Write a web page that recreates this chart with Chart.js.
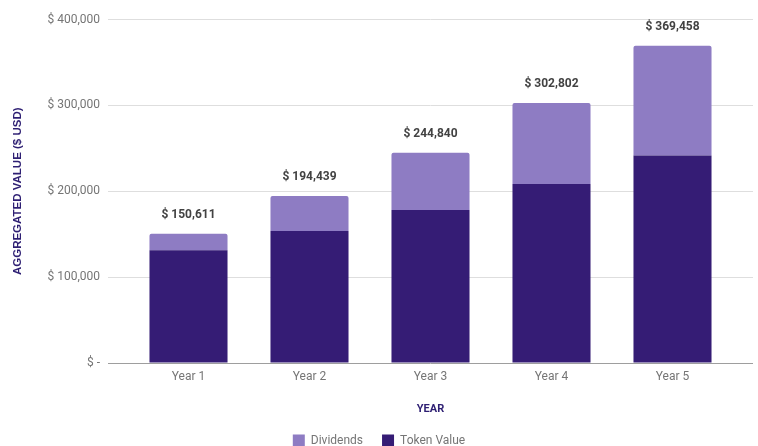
<!DOCTYPE html>
<html>
<head>
<meta charset="utf-8">
<script src="https://cdn.jsdelivr.net/npm/chart.js@4.4.1/dist/chart.umd.min.js"></script>
<style>
  html, body { margin: 0; padding: 0; background: #ffffff; }
  #wrap { width: 758px; height: 446px; position: relative; }
</style>
</head>
<body>
<div id="wrap"><canvas id="c"></canvas></div>
<script>
const categories = ['Year 1', 'Year 2', 'Year 3', 'Year 4', 'Year 5'];
const tokenValue = [131300, 153600, 178200, 208300, 241500];
const dividends = [19311, 40839, 66640, 94502, 127958];
const yTicks = [0, 100000, 200000, 300000, 400000];

const fmtMoney = v => v === 0 ? '$ -' : '$ ' + Number(v).toLocaleString('en-US');
const gridColor = ctx => (ctx.tick && ctx.tick.value === 0) ? '#9e9e9e' : '#dedede';

const totalLabels = {
  id: 'totalLabels',
  afterDatasetsDraw(chart) {
    const ctx = chart.ctx;
    const topMeta = chart.getDatasetMeta(1);
    ctx.save();
    ctx.font = 'bold 12px Roboto';
    ctx.fillStyle = '#424242';
    ctx.textAlign = 'center';
    ctx.textBaseline = 'middle';
    topMeta.data.forEach((bar, i) => {
      const total = tokenValue[i] + dividends[i];
      ctx.fillText(fmtMoney(total), bar.x, bar.y - 19);
    });
    ctx.restore();
  }
};

new Chart(document.getElementById('c'), {
  type: 'bar',
  data: {
    labels: categories,
    datasets: [
      {
        label: 'Token Value',
        data: tokenValue,
        backgroundColor: '#351c75',
        borderWidth: 0,
        categoryPercentage: 1,
        barPercentage: 0.645,
        yAxisID: 'y'
      },
      {
        label: 'Dividends',
        data: dividends,
        backgroundColor: '#8e7cc3',
        borderWidth: 0,
        borderRadius: { topLeft: 2, topRight: 2, bottomLeft: 0, bottomRight: 0 },
        borderSkipped: 'bottom',
        categoryPercentage: 1,
        barPercentage: 0.645,
        yAxisID: 'y'
      }
    ]
  },
  options: {
    responsive: true,
    maintainAspectRatio: false,
    animation: false,
    layout: { padding: { top: 19.5, left: 0, right: 0, bottom: -10.6 } },
    plugins: {
      tooltip: { enabled: false },
      legend: {
        position: 'bottom',
        reverse: true,
        labels: {
          boxWidth: 12,
          boxHeight: 12,
          padding: 19,
          color: '#757575',
          font: { family: 'Roboto', size: 12 }
        }
      }
    },
    scales: {
      x: {
        stacked: true,
        grid: { display: false, drawTicks: false },
        border: { display: false },
        ticks: { color: '#757575', padding: 7, font: { family: 'Roboto', size: 12 } },
        title: {
          display: true,
          text: 'YEAR',
          color: '#2e1f73',
          font: { family: 'Roboto', size: 11, weight: 'bold' },
          padding: { top: 11, bottom: 0 }
        }
      },
      y: {
        stacked: true,
        position: 'left',
        min: 0,
        max: 400000,
        afterBuildTicks: s => { s.ticks = yTicks.map(v => ({ value: v })); },
        afterFit: s => { s.width = 128; },
        grid: { color: gridColor, tickLength: 20, lineWidth: 1 },
        border: { display: false },
        ticks: {
          color: '#757575',
          padding: 8,
          font: { family: 'Roboto', size: 12 },
          callback: v => fmtMoney(v)
        },
        title: {
          display: true,
          text: 'AGGREGATED VALUE ($ USD)',
          color: '#2e1f73',
          font: { family: 'Liberation Sans', size: 11.5, weight: 'bold' },
          padding: { top: 11, bottom: 0 }
        }
      },
      y2: {
        position: 'right',
        min: 0,
        max: 400000,
        afterBuildTicks: s => { s.ticks = yTicks.map(v => ({ value: v })); },
        afterFit: s => { s.width = 25; },
        grid: { color: gridColor, tickLength: 20, drawOnChartArea: false },
        border: { display: false },
        ticks: { display: false }
      }
    }
  },
  plugins: [totalLabels]
});
</script>
</body>
</html>
